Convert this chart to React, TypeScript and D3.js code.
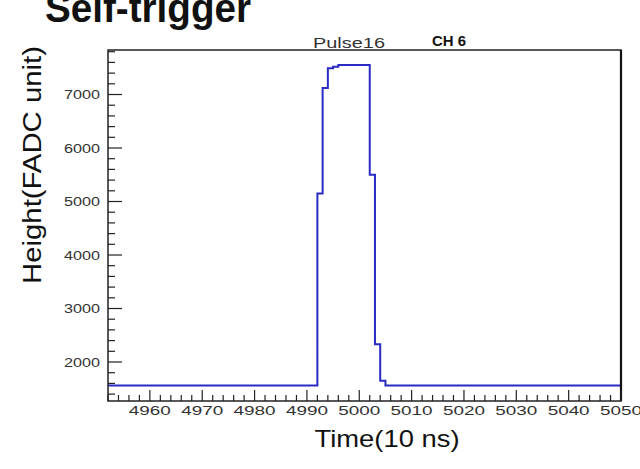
import React from "react";
import * as d3 from "d3";

// Histogram bin edges (Time, 10 ns units) and bin contents (FADC units)
const binEdges = [4952, 4992, 4993, 4994, 4995, 4996, 5002, 5003, 5004, 5005, 5050];
const binValues = [1560, 5150, 7120, 7490, 7520, 7550, 5500, 2330, 1650, 1560];

const yMajorTicks = [2000, 3000, 4000, 5000, 6000, 7000];
const xMajorTicks = [4960, 4970, 4980, 4990, 5000, 5010, 5020, 5030, 5040, 5050];

const titleText = "Self-trigger";
const subText = "Pulse16";
const chText = "CH 6";
const xTitle = "Time(10 ns)";
const yTitle = "Height(FADC unit)";

const W = 640;
const H = 469;
const frame = { left: 108, right: 621, top: 50, bottom: 401 };

export default function App() {
  const x = d3.scaleLinear().domain([4952, 5050]).range([frame.left, frame.right]);
  const y = d3.scaleLinear().domain([1271, 7832]).range([frame.bottom, frame.top]);

  const pts: [number, number][] = binValues.map((v, i) => [binEdges[i], v]);
  pts.push([binEdges[binEdges.length - 1], binValues[binValues.length - 1]]);
  const line = d3
    .line<[number, number]>()
    .x((d) => x(d[0]))
    .y((d) => y(d[1]))
    .curve(d3.curveStepAfter);

  const yMinor = d3.range(1400, 7801, 200).filter((v) => v % 1000 !== 0);
  const xMinor = d3.range(4952, 5050, 2).filter((v) => v % 10 !== 0);

  const font = "Liberation Sans, Arial, Helvetica, sans-serif";

  return (
    <svg
      width={W}
      height={H}
      style={{ position: "absolute", left: 0, top: 0, background: "#fff" }}
      fontFamily={font}
    >
      <rect x={0} y={0} width={W} height={H} fill="#fff" />
      {/* titles */}
      <text x={45} y={22} fontSize={40} fontWeight="bold" fill="#111" textLength={206} lengthAdjust="spacingAndGlyphs">
        {titleText}
      </text>
      <text x={313} y={48} fontSize={14} fill="#333" textLength={72} lengthAdjust="spacingAndGlyphs">
        {subText}
      </text>
      <text x={432} y={46} fontSize={15} fontWeight="bold" fill="#111" textLength={34} lengthAdjust="spacingAndGlyphs">
        {chText}
      </text>

      {/* histogram */}
      <path d={line(pts) || ""} fill="none" stroke="#2a2ac4" strokeWidth={2} />

      {/* frame */}
      <rect
        x={frame.left}
        y={frame.top}
        width={frame.right - frame.left}
        height={frame.bottom - frame.top}
        fill="none"
        stroke="#222"
        strokeWidth={1.5}
      />
      <line x1={frame.right} x2={frame.right} y1={frame.top} y2={frame.bottom} stroke="#111" strokeWidth={2.2} />

      {/* y ticks */}
      {yMajorTicks.map((v) => (
        <g key={"ym" + v}>
          <line x1={frame.left} x2={frame.left + 14} y1={y(v)} y2={y(v)} stroke="#222" strokeWidth={1.2} />
          <text
            x={100}
            y={y(v) + 4.5}
            fontSize={12}
            textAnchor="end"
            fill="#333"
            textLength={36}
            lengthAdjust="spacingAndGlyphs"
          >
            {v}
          </text>
        </g>
      ))}
      {yMinor.map((v) => (
        <line key={"yn" + v} x1={frame.left} x2={frame.left + 7} y1={y(v)} y2={y(v)} stroke="#222" strokeWidth={1.2} />
      ))}

      {/* x ticks */}
      {xMajorTicks.map((v) => (
        <g key={"xm" + v}>
          <line x1={x(v)} x2={x(v)} y1={frame.bottom} y2={frame.bottom - 11} stroke="#222" strokeWidth={1.2} />
          <text
            x={x(v)}
            y={frame.bottom + 14}
            fontSize={12}
            textAnchor="middle"
            fill="#333"
            textLength={42}
            lengthAdjust="spacingAndGlyphs"
          >
            {v}
          </text>
        </g>
      ))}
      {xMinor.map((v) => (
        <line key={"xn" + v} x1={x(v)} x2={x(v)} y1={frame.bottom} y2={frame.bottom - 6} stroke="#222" strokeWidth={1.2} />
      ))}

      {/* axis titles */}
      <text
        x={387}
        y={447}
        fontSize={24}
        textAnchor="middle"
        fill="#111"
        textLength={145}
        lengthAdjust="spacingAndGlyphs"
      >
        {xTitle}
      </text>
      <text
        transform={`translate(41,165) rotate(-90)`}
        fontSize={26}
        textAnchor="middle"
        fill="#111"
        textLength={238}
        lengthAdjust="spacingAndGlyphs"
      >
        {yTitle}
      </text>
    </svg>
  );
}
